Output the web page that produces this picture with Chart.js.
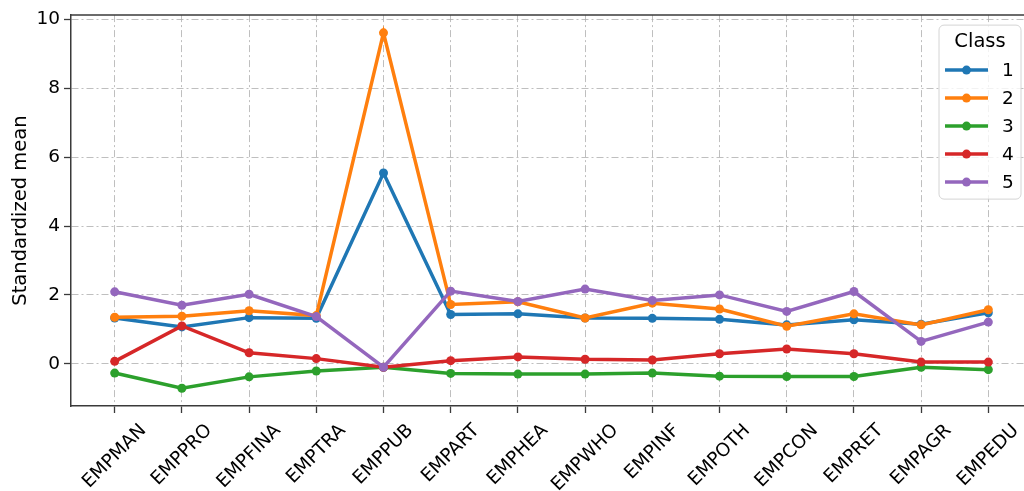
<!DOCTYPE html>
<html><head><meta charset="utf-8">
<script src="https://cdn.jsdelivr.net/npm/chart.js@4/dist/chart.umd.min.js"></script>
<style>
html,body{margin:0;padding:0;overflow:hidden;background:#fff;width:1024px;height:491px}
canvas{display:block}
</style></head><body>
<canvas id="c" width="1060" height="491"></canvas>
<script>
// Standardized means of employment variables per latent class
const categories = ['EMPMAN','EMPPRO','EMPFINA','EMPTRA','EMPPUB','EMPART','EMPHEA','EMPWHO','EMPINF','EMPOTH','EMPCON','EMPRET','EMPAGR','EMPEDU'];
const class1 = [1.33, 1.07, 1.34, 1.32, 5.54, 1.43, 1.45, 1.33, 1.32, 1.29, 1.13, 1.28, 1.15, 1.48];
const class2 = [1.35, 1.38, 1.54, 1.40, 9.61, 1.72, 1.80, 1.33, 1.76, 1.59, 1.09, 1.45, 1.13, 1.57];
const class3 = [-0.27, -0.71, -0.38, -0.21, -0.10, -0.28, -0.30, -0.30, -0.27, -0.36, -0.37, -0.37, -0.10, -0.17];
const class4 = [0.07, 1.10, 0.32, 0.15, -0.10, 0.09, 0.20, 0.13, 0.11, 0.29, 0.43, 0.29, 0.05, 0.05];
const class5 = [2.09, 1.70, 2.02, 1.37, -0.10, 2.11, 1.81, 2.17, 1.84, 2.00, 1.52, 2.10, 0.65, 1.21];
const classNames = ['1', '2', '3', '4', '5'];
const yTicks = [0, 2, 4, 6, 8, 10];

const FONT = "'DejaVu Sans', sans-serif";
const colors = ['#1f77b4', '#ff7f0e', '#2ca02c', '#d62728', '#9467bd'];
const series = [class1, class2, class3, class4, class5];
const gridColor = 'rgba(175,175,175,0.8)';
const spineColor = '#3a3a3a';

Chart.defaults.font.family = FONT;

const datasets = series.map((vals, i) => ({
  label: classNames[i],
  data: vals.map((v, j) => ({ x: j, y: v })),
  borderColor: colors[i],
  backgroundColor: colors[i],
  pointBackgroundColor: colors[i],
  pointBorderColor: colors[i],
  borderWidth: 3.5,
  pointRadius: 4.5,
  pointBorderWidth: 0,
  pointHoverRadius: 4.5,
  order: series.length - 1 - i,
  tension: 0,
  clip: false
}));

// Rotated, centred category labels under the x axis
const xLabels = {
  id: 'xLabels',
  afterDraw(chart) {
    const sx = chart.scales.x, ctx = chart.ctx;
    const size = 18.5;
    ctx.save();
    ctx.font = size + 'px ' + FONT;
    ctx.fillStyle = '#000';
    ctx.textAlign = 'center';
    ctx.textBaseline = 'middle';
    const top = chart.chartArea.bottom + 14;
    categories.forEach((lab, i) => {
      const x = sx.getPixelForValue(i);
      const L = ctx.measureText(lab).width;
      const box = (L + size * 1.17) * Math.SQRT1_2;
      ctx.save();
      ctx.translate(x, top + box / 2);
      ctx.rotate(-Math.PI / 4);
      ctx.fillText(lab, 0, 0);
      ctx.restore();
    });
    ctx.restore();
  }
};

// Top spine and the boxed legend in the upper right corner
const frameAndLegend = {
  id: 'frameAndLegend',
  afterDraw(chart) {
    const ctx = chart.ctx, a = chart.chartArea;
    ctx.save();
    ctx.strokeStyle = spineColor;
    ctx.lineWidth = 1.5;
    ctx.beginPath();
    ctx.moveTo(a.left, a.top);
    ctx.lineTo(a.right, a.top);
    ctx.stroke();

    const x0 = a.right - 93, y0 = a.top + 10, w = 82, h = 174, r = 5;
    ctx.beginPath();
    ctx.roundRect(x0, y0, w, h, r);
    ctx.fillStyle = 'rgba(255,255,255,0.8)';
    ctx.fill();
    ctx.strokeStyle = '#d4d4d4';
    ctx.lineWidth = 1;
    ctx.stroke();

    ctx.fillStyle = '#000';
    ctx.font = '19.5px ' + FONT;
    ctx.textAlign = 'center';
    ctx.textBaseline = 'middle';
    ctx.fillText('Class', x0 + 41, y0 + 17);

    ctx.font = '18.5px ' + FONT;
    chart.data.datasets.forEach((ds, i) => {
      const y = y0 + 45 + 28 * i;
      ctx.strokeStyle = ds.borderColor;
      ctx.lineWidth = 3.5;
      ctx.beginPath();
      ctx.moveTo(x0 + 6, y);
      ctx.lineTo(x0 + 49, y);
      ctx.stroke();
      ctx.fillStyle = ds.borderColor;
      ctx.beginPath();
      ctx.arc(x0 + 27.5, y, 4.5, 0, Math.PI * 2);
      ctx.fill();
      ctx.fillStyle = '#000';
      ctx.textAlign = 'left';
      ctx.fillText(ds.label, x0 + 63, y + 1);
    });
    ctx.restore();
  }
};

const gridOpts = {
  color: gridColor,
  lineWidth: 1,
  drawTicks: true,
  tickLength: 7,
  tickColor: spineColor,
  tickWidth: 1.3,
  tickBorderDash: []
};
const borderOpts = { display: true, color: spineColor, width: 1.5, dash: [7, 3, 2, 3] };

new Chart(document.getElementById('c'), {
  type: 'line',
  data: { datasets },
  options: {
    responsive: false,
    animation: false,
    devicePixelRatio: 1,
    layout: { padding: { top: 14, right: 28, left: 0, bottom: 0 } },
    plugins: { legend: { display: false }, tooltip: { enabled: false } },
    scales: {
      x: {
        type: 'linear',
        min: -0.65,
        max: categories.length - 1 + 0.65,
        afterBuildTicks: s => { s.ticks = categories.map((_, i) => ({ value: i })); },
        afterFit: s => { s.height = 85; },
        ticks: { display: false },
        grid: gridOpts,
        border: borderOpts
      },
      y: {
        min: -1.226,
        max: 10.126,
        afterBuildTicks: s => { s.ticks = yTicks.map(v => ({ value: v })); },
        afterFit: s => { s.width = 71; },
        ticks: { font: { size: 18.5, family: FONT }, color: '#000', padding: 4 },
        title: {
          display: true,
          text: 'Standardized mean',
          font: { size: 19.5, family: FONT },
          color: '#000',
          padding: { top: 9, bottom: 0 }
        },
        grid: gridOpts,
        border: borderOpts
      }
    }
  },
  plugins: [xLabels, frameAndLegend]
});
</script>
</body></html>
